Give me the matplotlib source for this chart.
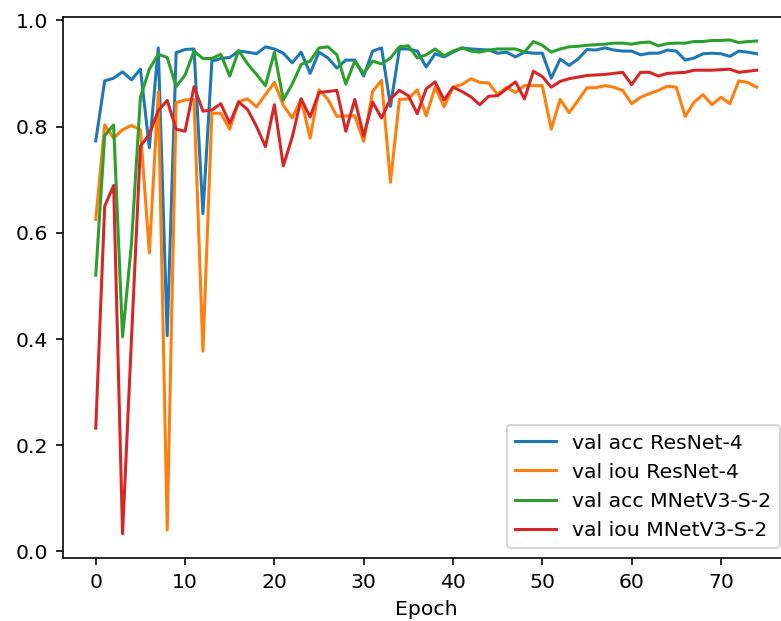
import matplotlib
matplotlib.use("Agg")
import matplotlib.pyplot as plt
import numpy as np

epochs = np.arange(75)

acc_resnet = [0.773, 0.886, 0.891, 0.903, 0.888, 0.908, 0.760, 0.948, 0.406, 0.939,
              0.945, 0.946, 0.636, 0.923, 0.928, 0.930, 0.942, 0.940, 0.937, 0.950,
              0.946, 0.938, 0.920, 0.940, 0.900, 0.940, 0.929, 0.910, 0.925, 0.925,
              0.895, 0.942, 0.948, 0.838, 0.946, 0.946, 0.942, 0.912, 0.937, 0.931,
              0.940, 0.948, 0.946, 0.945, 0.944, 0.938, 0.940, 0.931, 0.940, 0.938,
              0.938, 0.891, 0.927, 0.915, 0.927, 0.945, 0.944, 0.948, 0.944, 0.942,
              0.942, 0.935, 0.938, 0.938, 0.944, 0.942, 0.925, 0.929, 0.937, 0.938,
              0.937, 0.932, 0.942, 0.940, 0.937]

iou_resnet = [0.625, 0.803, 0.778, 0.794, 0.802, 0.794, 0.562, 0.865, 0.040, 0.845,
              0.850, 0.851, 0.377, 0.825, 0.825, 0.795, 0.847, 0.852, 0.837, 0.860,
              0.883, 0.840, 0.816, 0.852, 0.778, 0.869, 0.851, 0.819, 0.820, 0.820,
              0.772, 0.866, 0.887, 0.695, 0.851, 0.852, 0.869, 0.820, 0.874, 0.837,
              0.874, 0.879, 0.890, 0.883, 0.882, 0.860, 0.874, 0.864, 0.877, 0.877,
              0.877, 0.795, 0.851, 0.826, 0.849, 0.873, 0.873, 0.877, 0.874, 0.868,
              0.843, 0.855, 0.862, 0.868, 0.876, 0.874, 0.819, 0.846, 0.860, 0.841,
              0.855, 0.843, 0.886, 0.883, 0.874]

acc_mnet = [0.520, 0.783, 0.803, 0.404, 0.580, 0.855, 0.908, 0.936, 0.930, 0.875,
            0.897, 0.942, 0.928, 0.928, 0.936, 0.895, 0.943, 0.918, 0.898, 0.877,
            0.940, 0.850, 0.880, 0.917, 0.923, 0.948, 0.950, 0.935, 0.880, 0.923,
            0.900, 0.923, 0.918, 0.929, 0.950, 0.952, 0.929, 0.935, 0.946, 0.933,
            0.942, 0.948, 0.942, 0.940, 0.944, 0.946, 0.946, 0.946, 0.940, 0.960,
            0.953, 0.940, 0.946, 0.950, 0.951, 0.953, 0.954, 0.955, 0.957, 0.957,
            0.955, 0.958, 0.959, 0.952, 0.956, 0.957, 0.957, 0.960, 0.960, 0.962,
            0.962, 0.963, 0.958, 0.960, 0.961]

iou_mnet = [0.232, 0.650, 0.689, 0.033, 0.400, 0.763, 0.785, 0.830, 0.849, 0.795,
            0.791, 0.875, 0.829, 0.831, 0.843, 0.806, 0.846, 0.832, 0.800, 0.762,
            0.841, 0.726, 0.780, 0.852, 0.818, 0.864, 0.866, 0.868, 0.791, 0.851,
            0.782, 0.846, 0.816, 0.852, 0.868, 0.858, 0.824, 0.871, 0.884, 0.850,
            0.874, 0.866, 0.856, 0.841, 0.857, 0.858, 0.871, 0.884, 0.852, 0.904,
            0.894, 0.874, 0.885, 0.890, 0.893, 0.896, 0.897, 0.898, 0.900, 0.902,
            0.879, 0.902, 0.902, 0.895, 0.900, 0.901, 0.902, 0.906, 0.906, 0.906,
            0.907, 0.908, 0.902, 0.904, 0.906]

dpi = 146.5
fig = plt.figure(figsize=(781.2 / dpi, 621.2 / dpi), dpi=dpi)
# the reference is cropped on the right, so the axes run past the edge
ax = fig.add_axes([62.7 / 781, (621 - 558.3) / 621, 726.8 / 781, 541.0 / 621])

ax.plot(epochs, acc_resnet, label='val acc ResNet-4')
ax.plot(epochs, iou_resnet, label='val iou ResNet-4')
ax.plot(epochs, acc_mnet, label='val acc MNetV3-S-2')
ax.plot(epochs, iou_mnet, label='val iou MNetV3-S-2')

ax.set_xlim(-3.7, 77.7)
ax.set_ylim(-0.013, 1.006)
ax.set_xticks(np.arange(0, 71, 10))
ax.set_yticks(np.arange(0, 1.01, 0.2))
ax.set_xlabel('Epoch')
ax.legend(loc='lower right')

fig.savefig('out.png', dpi=dpi)
